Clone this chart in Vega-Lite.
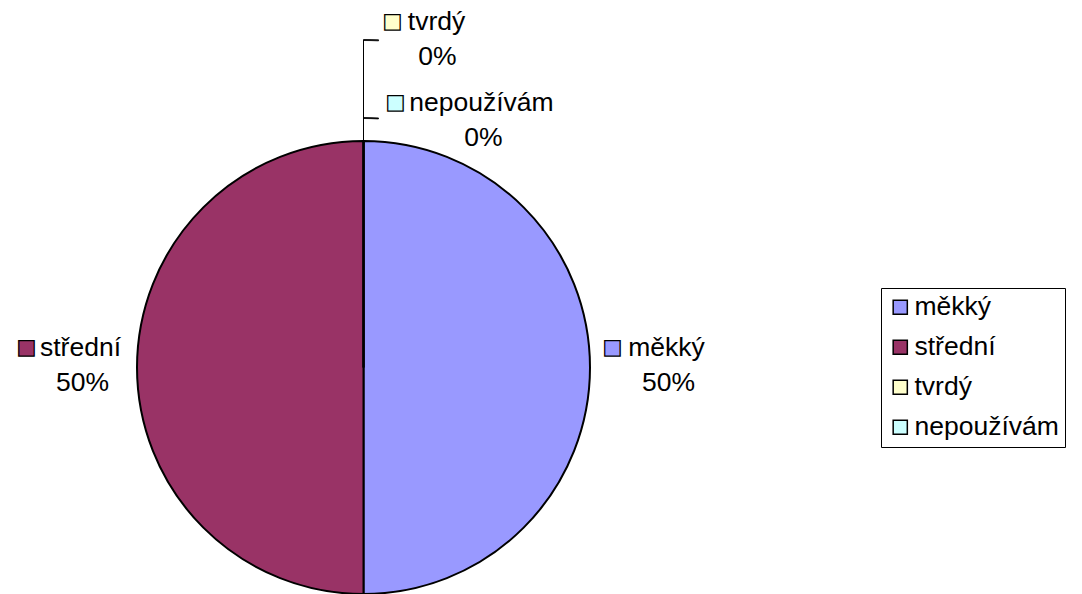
{
  "$schema": "https://vega.github.io/schema/vega-lite/v6.json",
  "width": 453,
  "height": 453,
  "autosize": {"type": "none"},
  "padding": {"left": 137, "top": 141, "right": 492, "bottom": 0},
  "background": "white",
  "config": {"view": {"stroke": null}, "font": "Liberation Sans"},
  "data": {
    "values": [
      {"category": "měkký", "value": 0.5, "idx": 1},
      {"category": "střední", "value": 0.5, "idx": 2},
      {"category": "tvrdý", "value": 0, "idx": 3},
      {"category": "nepoužívám", "value": 0, "idx": 4}
    ]
  },
  "layer": [
    {
      "mark": {"type": "arc", "stroke": "black", "strokeWidth": 2},
      "encoding": {
        "theta": {"field": "value", "type": "quantitative", "stack": true},
        "order": {"field": "idx", "type": "quantitative"},
        "color": {
          "field": "category",
          "type": "nominal",
          "scale": {
            "domain": ["měkký", "střední", "tvrdý", "nepoužívám"],
            "range": ["#9999FF", "#993366", "#FFFFCC", "#CCFFFF"]
          },
          "legend": {
            "orient": "none",
            "legendX": 744,
            "legendY": 147,
            "title": null,
            "labelFont": "Liberation Sans",
            "labelFontSize": 26.5,
            "labelColor": "black",
            "symbolType": "square",
            "symbolSize": 200,
            "symbolStrokeColor": "black",
            "symbolStrokeWidth": 1.5,
            "symbolOpacity": 1,
            "strokeColor": "black",
            "fillColor": "white",
            "padding": 6,
            "rowPadding": 13,
            "labelOffset": 1,
            "labelLimit": 400
          }
        }
      }
    },
    {
      "transform": [{"filter": "datum.category === 'tvrdý'"}],
      "mark": {"type": "arc", "radius": 327.5, "radius2": 226.5, "stroke": "black", "strokeWidth": 1, "fillOpacity": 0},
      "encoding": {
        "theta": {"field": "value", "type": "quantitative", "stack": true}
      }
    },
    {
      "transform": [{"filter": "datum.category === 'tvrdý'"}],
      "mark": {"type": "arc", "radius": 328, "radius2": 327, "theta": 0, "theta2": 0.046, "stroke": "black", "strokeWidth": 0.8, "fill": "black"},
      "encoding": {}
    },
    {
      "transform": [{"filter": "datum.category === 'nepoužívám'"}],
      "mark": {"type": "arc", "radius": 250, "radius2": 249, "theta": 0, "theta2": 0.06, "stroke": "black", "strokeWidth": 0.8, "fill": "black"},
      "encoding": {}
    },
    {
      "transform": [{"filter": "datum.value > 0"}],
      "mark": {"type": "text", "radius": 293, "dx": 10, "dy": -11.5, "fontSize": 26.5, "align": "center", "baseline": "alphabetic", "color": "black"},
      "encoding": {
        "theta": {"field": "value", "type": "quantitative", "stack": true},
        "order": {"field": "idx", "type": "quantitative"},
        "text": {"field": "category", "type": "nominal"}
      }
    },
    {
      "transform": [{"filter": "datum.value > 0"}],
      "mark": {"type": "text", "radius": 293, "dx": 12, "dy": 23.5, "fontSize": 26.5, "align": "center", "baseline": "alphabetic", "color": "black"},
      "encoding": {
        "theta": {"field": "value", "type": "quantitative", "stack": true},
        "order": {"field": "idx", "type": "quantitative"},
        "text": {"field": "value", "type": "quantitative", "format": ".0%"}
      }
    },
    {
      "transform": [{"filter": "datum.value > 0"}],
      "mark": {"type": "text", "radius": 293, "dx": -44, "dy": -9.5, "fontSize": 32, "align": "center", "baseline": "alphabetic", "stroke": "black", "strokeWidth": 1.3},
      "encoding": {
        "theta": {"field": "value", "type": "quantitative", "stack": true},
        "order": {"field": "idx", "type": "quantitative"},
        "text": {"value": "■"},
        "color": {"field": "category", "type": "nominal"}
      }
    },
    {
      "transform": [{"filter": "datum.category === 'tvrdý'"}],
      "mark": {"type": "text", "radius": 326, "dx": 73, "dy": -11.5, "fontSize": 26.5, "align": "center", "baseline": "alphabetic", "color": "black"},
      "encoding": {
        "theta": {"field": "value", "type": "quantitative", "stack": true},
        "text": {"field": "category", "type": "nominal"}
      }
    },
    {
      "transform": [{"filter": "datum.category === 'tvrdý'"}],
      "mark": {"type": "text", "radius": 326, "dx": 74, "dy": 23.5, "fontSize": 26.5, "align": "center", "baseline": "alphabetic", "color": "black"},
      "encoding": {
        "theta": {"field": "value", "type": "quantitative", "stack": true},
        "text": {"field": "value", "type": "quantitative", "format": ".0%"}
      }
    },
    {
      "transform": [{"filter": "datum.category === 'tvrdý'"}],
      "mark": {"type": "text", "radius": 326, "dx": 29, "dy": -9.5, "fontSize": 32, "align": "center", "baseline": "alphabetic", "stroke": "black", "strokeWidth": 1.3},
      "encoding": {
        "theta": {"field": "value", "type": "quantitative", "stack": true},
        "text": {"value": "■"},
        "color": {"field": "category", "type": "nominal"}
      }
    },
    {
      "transform": [{"filter": "datum.category === 'nepoužívám'"}],
      "mark": {"type": "text", "radius": 245, "dx": 118, "dy": -11.5, "fontSize": 26.5, "align": "center", "baseline": "alphabetic", "color": "black"},
      "encoding": {
        "theta": {"field": "value", "type": "quantitative", "stack": true},
        "text": {"field": "category", "type": "nominal"}
      }
    },
    {
      "transform": [{"filter": "datum.category === 'nepoužívám'"}],
      "mark": {"type": "text", "radius": 245, "dx": 120, "dy": 23.5, "fontSize": 26.5, "align": "center", "baseline": "alphabetic", "color": "black"},
      "encoding": {
        "theta": {"field": "value", "type": "quantitative", "stack": true},
        "text": {"field": "value", "type": "quantitative", "format": ".0%"}
      }
    },
    {
      "transform": [{"filter": "datum.category === 'nepoužívám'"}],
      "mark": {"type": "text", "radius": 245, "dx": 32, "dy": -9.5, "fontSize": 32, "align": "center", "baseline": "alphabetic", "stroke": "black", "strokeWidth": 1.3},
      "encoding": {
        "theta": {"field": "value", "type": "quantitative", "stack": true},
        "text": {"value": "■"},
        "color": {"field": "category", "type": "nominal"}
      }
    }
  ]
}
